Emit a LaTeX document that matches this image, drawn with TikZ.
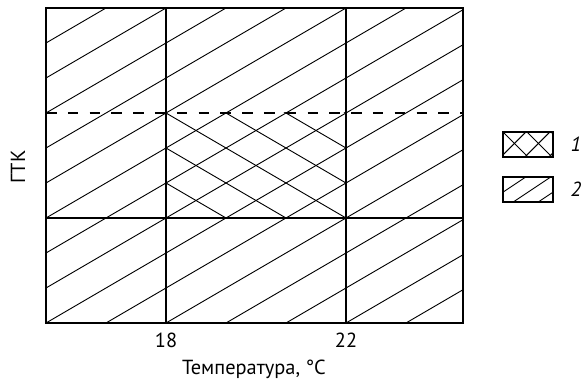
\documentclass[tikz,border=0pt]{standalone}
\usepackage{fontspec}
\setmainfont{PT Sans}
\usetikzlibrary{positioning}

\begin{document}
\begin{tikzpicture}[x=0.025cm,y=0.025cm,
  hatch/.style={line width=0.65pt},
  divider/.style={line width=1.6pt},
  frame/.style={line width=0.8pt},
  lbl/.style={font=\fontsize{14.5}{17}\selectfont},
  legbox/.style={draw,line width=0.8pt,minimum width=1.25cm,minimum height=0.625cm,inner sep=0pt}]
\useasboundingbox (0,0) rectangle (581,381);
% single hatch over the whole field
\begin{scope}
\clip (46,58) rectangle (463,373);
\foreach \k in {-8,...,9}
  \draw[hatch] (46,58+35*\k) -- ++(480,280);
\end{scope}
% cross hatch, 18--22
\begin{scope}
\clip (166,163) rectangle (346,268);
\foreach \k in {-3,...,3}
  \draw[hatch] (166,268+35*\k) -- ++(180,-105);
\end{scope}
% frame and limits
\draw[frame] (46,58) rectangle (463,373);
\draw[divider] (166,58) -- (166,373);
\draw[divider] (346,58) -- (346,373);
\draw[divider] (46,163) -- (463,163);
\draw[divider,dash pattern=on 7.5pt off 8pt] (46,268) -- (463,268);
% axis labels
\node[lbl] (t18) at (166,41) {18};
\node[lbl] (t22) at (346,41) {22};
\node[lbl] (xlab) at (254,12) {Температура, °C};
\node[lbl,rotate=90] (ylab) at (18,214) {ГТК};
% legend
\node[legbox] (cross) at (528,236.5) {};
\node[legbox] (single) at (528,191.5) {};
\begin{scope}[shift={(cross.north west)}]
\clip (0,0) rectangle (50,-25);
\foreach \k in {-1,...,2}
  \draw[hatch] (24*\k,0) -- ++(30,-30);
\foreach \k in {0,...,3}
  \draw[hatch] (24*\k,0) -- ++(-30,-30);
\end{scope}
\begin{scope}[shift={(single.south west)}]
\clip (0,0) rectangle (50,25);
\foreach \k in {-2,...,1}
  \draw[hatch] (10+25*\k,0) -- ++(45,30);
\end{scope}
\node[lbl,font=\fontsize{14.5}{17}\selectfont\itshape,inner sep=0pt,right=0.42cm of cross] (l1) {1};
\node[lbl,font=\fontsize{14.5}{17}\selectfont\itshape,inner sep=0pt,right=0.42cm of single] (l2) {2};
\end{tikzpicture}
\end{document}
